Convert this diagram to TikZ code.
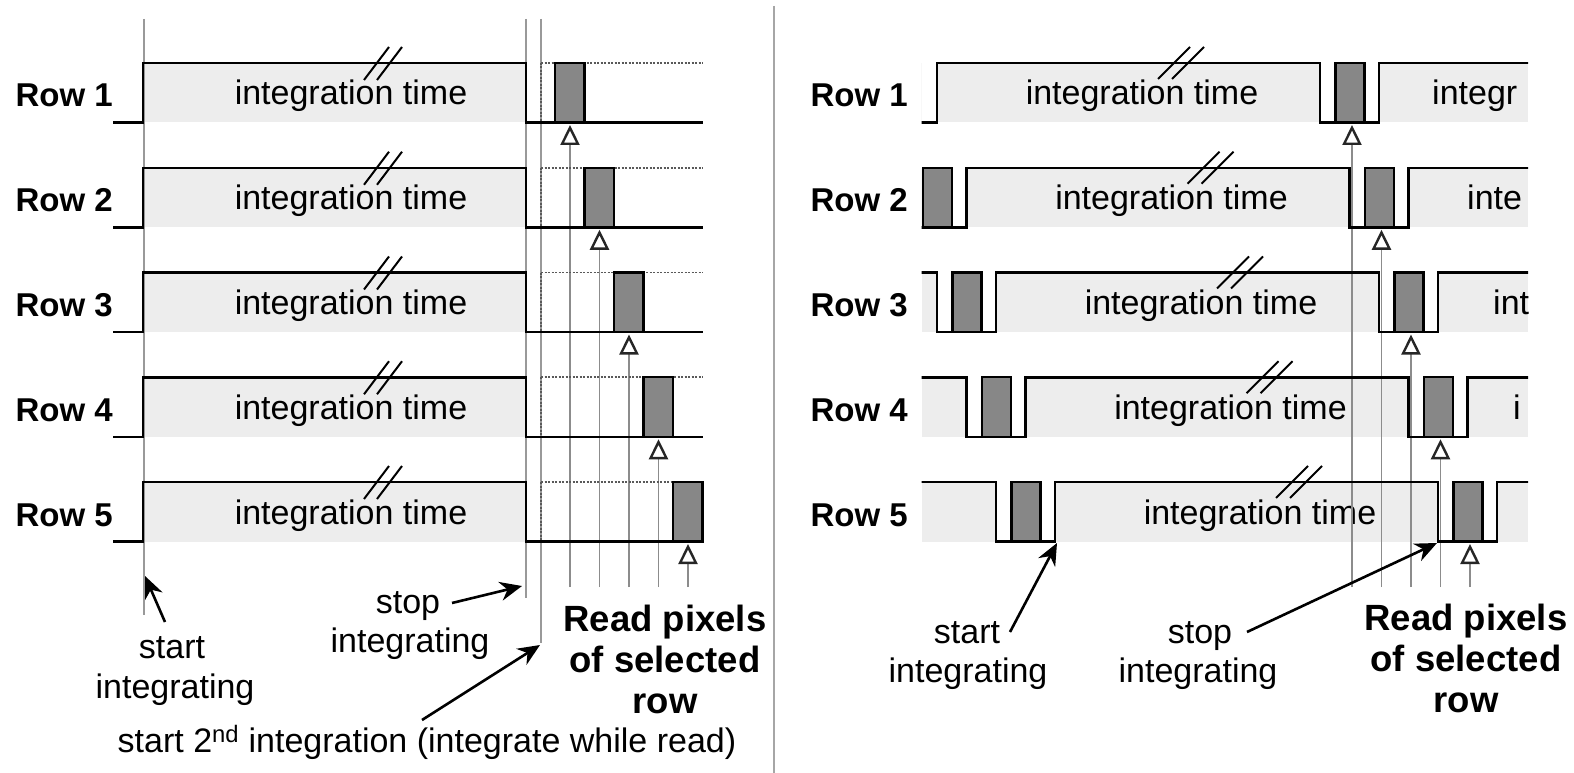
\documentclass[tikz,border=0pt]{standalone}
\usepackage{fontspec}
\setmainfont{Liberation Sans}
\usetikzlibrary{arrows.meta}
\newcommand{\myreg}{\fontsize{34}{40}\selectfont}
\newcommand{\mybold}{\fontsize{36.5}{42}\selectfont\bfseries}
\newcommand{\myrow}{\fontsize{33}{40}\selectfont\bfseries}
\begin{document}
\begin{tikzpicture}[x=1pt,y=-1pt,
  sig/.style={line width=2.5pt,line join=miter},
  band/.style={fill=black!7},
  rbox/.style={fill=black!47,draw=black,line width=2.2pt},
  vline/.style={draw=black!40,line width=1.3pt},
  divider/.style={draw=black!35,line width=2.2pt},
  dotl/.style={draw=black!65,line width=1.8pt,dash pattern=on 2pt off 1.5pt},
  brk/.style={line width=2pt},
  readarr/.style={draw=black!45,line width=1.5pt,-{Triangle[open,length=20pt,width=19pt,line width=2.4pt,color=black!85]}},
  note/.style={line width=2.6pt,-{Stealth[length=22pt,width=19pt]}},
  txt/.style={inner sep=0pt,anchor=base,font=\myreg},
  btxt/.style={inner sep=0pt,anchor=base,font=\mybold},
  rowlbl/.style={inner sep=0pt,anchor=base east,font=\myrow},
]
\useasboundingbox (0,0) rectangle (1574,773);
\fill[white] (0,0) rectangle (1574,773);

% ---------------- bands ----------------
\foreach \r in {1,...,5}{
  \pgfmathsetmacro{\H}{63+104.75*(\r-1)}
  \pgfmathsetmacro{\L}{\H+59.5}
  \fill[band] (143,\H) rectangle (526,\L);
}
\begin{scope}
  \clip (921.5,0) rectangle (1528,773);
  \foreach \r in {1,...,5}{
    \pgfmathsetmacro{\H}{63+104.75*(\r-1)}
    \pgfmathsetmacro{\L}{\H+59.5}
    \pgfmathsetmacro{\Da}{878+29.5*(\r-1)}
    \pgfmathsetmacro{\Db}{\Da+442}
    \fill[band] (921.5,\H) rectangle (\Da,\L);
    \fill[band] ({\Da+59},\H) rectangle (\Db,\L);
    \fill[band] ({\Db+59},\H) rectangle (1528,\L);
  }
\end{scope}

% ---------------- long vertical lines ----------------
\coordinate (vA1) at (144,19);  \coordinate (vA2) at (144,615);
\coordinate (vB1) at (526,19);  \coordinate (vB2) at (526,598);
\coordinate (vC1) at (541,19);  \coordinate (vC2) at (541,643);
\coordinate (dv1) at (774,6);   \coordinate (dv2) at (774,773);
\draw[vline] (vA1) -- (vA2);
\draw[vline] (vB1) -- (vB2);
\draw[vline] (vC1) -- (vC2);
\draw[divider] (dv1) -- (dv2);

% ---------------- texts in bands ----------------
\foreach \r in {1,...,5}{
  \pgfmathsetmacro{\H}{63+104.75*(\r-1)}
  \node[txt] (itL\r) at (351,{\H+42}) {integration time};
}
\begin{scope}
  \clip (921.5,0) rectangle (1528,773);
  \foreach \r in {1,...,5}{
    \pgfmathsetmacro{\H}{63+104.75*(\r-1)}
    \pgfmathsetmacro{\tx}{1142+29.5*(\r-1)}
    \node[txt] (itR\r) at (\tx,{\H+42}) {integration time};
  }
  \foreach \r/\w/\wx in {1/integr/1432,2/inte/1467,3/int/1493,4/i/1513}{
    \pgfmathsetmacro{\H}{63+104.75*(\r-1)}
    \node[txt,anchor=base west] (pw\r) at (\wx,{\H+42}) {\w};
  }
\end{scope}

% ---------------- read arrows ----------------
\foreach \r in {1,...,5}{
  \pgfmathsetmacro{\H}{63+104.75*(\r-1)}
  \pgfmathsetmacro{\L}{\H+59.5}
  \pgfmathsetmacro{\ax}{570+29.5*(\r-1)}
  \pgfmathsetmacro{\bx}{1352+29.5*(\r-1)}
  \coordinate (raLb\r) at (\ax,587);
  \coordinate (raLt\r) at (\ax,{\L+2.5});
  \coordinate (raRb\r) at (\bx,587);
  \coordinate (raRt\r) at (\bx,{\L+2.5});
  \draw[readarr] (raLb\r) -- (raLt\r);
  \draw[readarr] (raRb\r) -- (raRt\r);
}

% ---------------- left signals ----------------
\foreach \r in {1,...,5}{
  \pgfmathsetmacro{\H}{63+104.75*(\r-1)}
  \pgfmathsetmacro{\L}{\H+59.5}
  \pgfmathsetmacro{\bx}{555+29.5*(\r-1)}
  \draw[dotl] (541,\H) -- (703,\H);
  \draw[dotl] (541,\H) -- (541,\L);
  \draw[sig] (113,\L) -- (143,\L) -- (143,\H) -- (526,\H) -- (526,\L) -- (703,\L);
  \filldraw[rbox] (\bx,\H) rectangle ({\bx+29.5},\L);
  \draw[brk] (364,{\H+17}) -- (389,{\H-16});
  \draw[brk] (377,{\H+17}) -- (402,{\H-16});
  \node[rowlbl] (rowL\r) at (113,{\H+44}) {Row \r};
}

% ---------------- right signals ----------------
\begin{scope}
  \clip (921.5,0) rectangle (1528,773);
  \foreach \r in {1,...,5}{
    \pgfmathsetmacro{\H}{63+104.75*(\r-1)}
    \pgfmathsetmacro{\L}{\H+59.5}
    \pgfmathsetmacro{\Da}{878+29.5*(\r-1)}
    \pgfmathsetmacro{\Db}{\Da+442}
    \pgfmathsetmacro{\sx}{1158+29.5*(\r-1)}
    \draw[sig] (860,\H) -- (\Da,\H) -- (\Da,\L) -- ({\Da+59},\L) -- ({\Da+59},\H)
       -- (\Db,\H) -- (\Db,\L) -- ({\Db+59},\L) -- ({\Db+59},\H) -- (1540,\H);
    \filldraw[rbox] ({\Db+15.5},\H) rectangle ({\Db+44.5},\L);
    \draw[brk] (\sx,{\H+16}) -- ({\sx+32},{\H-16});
    \draw[brk] ({\sx+14},{\H+16}) -- ({\sx+46},{\H-16});
  }
  \foreach \r in {2,...,5}{
    \pgfmathsetmacro{\H}{63+104.75*(\r-1)}
    \pgfmathsetmacro{\L}{\H+59.5}
    \pgfmathsetmacro{\Da}{878+29.5*(\r-1)}
    \filldraw[rbox] ({\Da+15.5},\H) rectangle ({\Da+44.5},\L);
  }
\end{scope}
\foreach \r in {1,...,5}{
  \pgfmathsetmacro{\H}{63+104.75*(\r-1)}
  \node[rowlbl] (rowR\r) at (908,{\H+44}) {Row \r};
}

% ---------------- left annotations ----------------
\node[txt] (startL1) at (172,658) {start};
\node[txt] (startL2) at (175,698) {integrating};
\node[txt] (stopL1) at (408,613) {stop};
\node[txt] (stopL2) at (410,652) {integrating};
\node[btxt] (readL1) at (665,631) {Read pixels};
\node[btxt] (readL2) at (665,672) {of selected};
\node[btxt] (readL3) at (665,713) {row};
\node[txt] (second) at (427,752) {start 2\textsuperscript{nd} integration (integrate while read)};

\coordinate (sStartL) at (165,622);
\coordinate (tStartL) at (145,576);
\coordinate (sStopL) at (452,603);
\coordinate (tStopL) at (522,586);
\coordinate (sSecond) at (422,720);
\coordinate (tSecond) at (540,645);
\draw[note] (sStartL) -- (tStartL);
\draw[note] (sStopL) -- (tStopL);
\draw[note] (sSecond) -- (tSecond);

% ---------------- right annotations ----------------
\node[txt] (startR1) at (967,643) {start};
\node[txt] (startR2) at (968,682) {integrating};
\node[txt] (stopR1) at (1200,643) {stop};
\node[txt] (stopR2) at (1198,682) {integrating};
\node[btxt] (readR1) at (1466,630) {Read pixels};
\node[btxt] (readR2) at (1466,671) {of selected};
\node[btxt] (readR3) at (1466,712) {row};

\coordinate (sStartR) at (1010,632);
\coordinate (tStartR) at (1057,543);
\coordinate (sStopR) at (1247,632);
\coordinate (tStopR) at (1437,543);
\draw[note] (sStartR) -- (tStartR);
\draw[note] (sStopR) -- (tStopR);
\end{tikzpicture}
\end{document}
